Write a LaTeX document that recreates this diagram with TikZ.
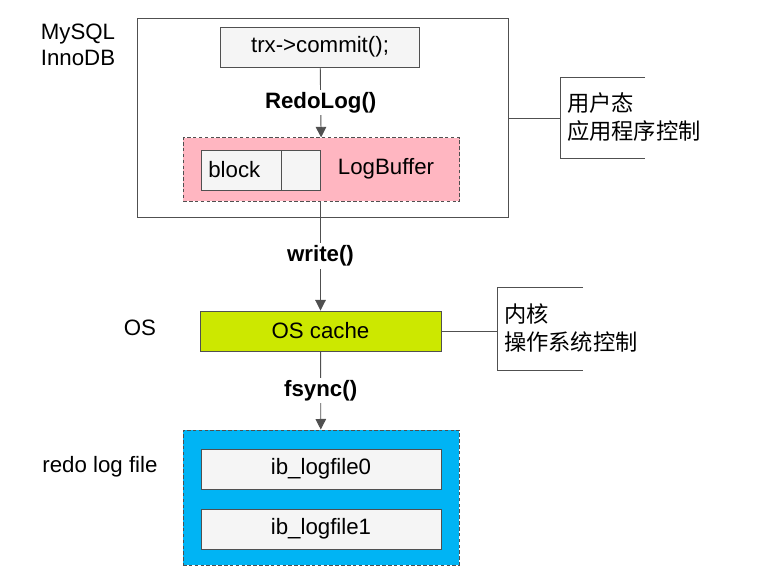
\documentclass[tikz,border=0pt]{standalone}
\usepackage{fontspec}
\setmainfont{Liberation Sans}
\newfontfamily\cjk{Noto Sans CJK SC}
\usetikzlibrary{arrows.meta}
\definecolor{lineg}{HTML}{505050}
\definecolor{pinkbuf}{HTML}{FFB6C1}
\definecolor{oscol}{HTML}{CCE800}
\definecolor{filecol}{HTML}{00B4F4}
\tikzset{
	box/.style={draw=lineg,thick,fill=gray!8,minimum height=1.2cm,inner sep=0pt},
	area/.style={draw=lineg,densely dashed,thick},
	flow/.style={draw=lineg,thick,-{Triangle[length=9pt,width=9pt]}},
	lbl/.style={font=\fontsize{19}{22}\selectfont\bfseries,fill=white,inner sep=2pt},
	cjktext/.style={anchor=west,font=\cjk\fontsize{19}{24}\selectfont,align=left}
}
\begin{document}
\begin{tikzpicture}[x=0.03cm,y=-0.03cm,font=\fontsize{19}{22}\selectfont]
	\useasboundingbox (0,0) rectangle (766,578);

	% user space
	\draw[lineg,thick] (137,18) rectangle (508,217);
	\node[box,minimum width=5.97cm] (commit) at (320,47) {trx->commit();};
	\node[area,fill=pinkbuf,minimum width=8.3cm,minimum height=1.9cm] (buffer) at (321.5,169.5) {};
	\node[box,minimum width=3.57cm,anchor=west,align=left,text width=3.3cm] (block) at (201,170) {\hspace{2pt}block};
	\draw[lineg,thick] (281,150) -- (281,190);
	\node (logbuf) at (386,169) {LogBuffer};
	\node (mysql) at (78,45) [align=center] {MySQL\\InnoDB};

	% os
	\node[box,fill=oscol,minimum width=7.23cm] (cache) at (320.5,331) {OS cache};
	\node (os) at (140,328) {OS};

	% files
	\node[area,fill=filecol,minimum width=8.28cm,minimum height=4.05cm] (files) at (321,497.5) {};
	\node[box,minimum width=7.2cm] (file0) at (321,469) {ib\_logfile0};
	\node[box,minimum width=7.2cm] (file1) at (321,529) {ib\_logfile1};
	\node (redo) at (100,467) {redo log file};

	% flows
	\draw[flow] (commit) -- node[lbl] {RedoLog()} (buffer);
	\draw[flow] (buffer.south -| cache.north) -- node[lbl] {write()} (cache);
	\draw[flow] (cache) -- node[lbl] {fsync()} (files);

	% brackets
	\coordinate (b1) at (560,118);
	\coordinate (b2) at (497,331);
	\draw[lineg,thick] (508,118) -- (b1);
	\draw[lineg,thick] (645,77) -- (560,77) -- (560,158) -- (645,158);
	\node[cjktext] (user) at (563,117) {用户态\\应用程序控制};
	\draw[lineg,thick] (cache.east) -- (b2);
	\draw[lineg,thick] (583,287) -- (497,287) -- (497,370) -- (583,370);
	\node[cjktext] (kernel) at (500,328) {内核\\操作系统控制};
\end{tikzpicture}
\end{document}
